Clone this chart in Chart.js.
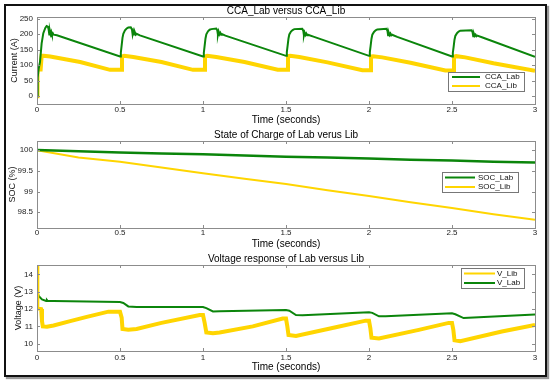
<!DOCTYPE html>
<html>
<head>
<meta charset="utf-8">
<script src="https://cdn.jsdelivr.net/npm/chart.js"></script>
<title>CCA / SOC / Voltage</title>
<style>
  body { margin: 0; background: #fff; }
  #frame { position: absolute; left: 4px; top: 4px; width: 539px; height: 369px;
           border: 2px solid #111; box-shadow: 2px 2px 1px #999; }
  .panel { position: absolute; left: 0; width: 550px; }
</style>
</head>
<body>
<div id="frame"></div>
<div class="panel" style="top:0px;height:125px"><canvas id="ccaChart"></canvas></div>
<div class="panel" style="top:125px;height:125px"><canvas id="socChart"></canvas></div>
<div class="panel" style="top:250px;height:122px"><canvas id="voltChart"></canvas></div>

<script>
// ---- data ----
const timeTicks = [0, 0.5, 1, 1.5, 2, 2.5, 3];
const ccaTicks = [0, 50, 100, 150, 200, 250];
const socTicks = [98.5, 99, 99.5, 100];
const voltTicks = [10, 11, 12, 13, 14];

// CCA_Lab (A)
const ccaLabTime = [
  0, 0.004, 0.01, 0.018, 0.028, 0.038, 0.05, 0.058, 0.066, 0.07, 0.074, 0.078, 0.082, 0.086, 0.09, 0.095, 0.1, 0.12,
  0.5, 0.505, 0.51, 0.515, 0.52, 0.53, 0.54, 0.55, 0.565, 0.572, 0.576, 0.58, 0.585, 0.59, 0.595, 0.6, 0.62,
  1.0, 1.005, 1.01, 1.015, 1.02, 1.03, 1.04, 1.05, 1.08, 1.086, 1.09, 1.094, 1.099, 1.104, 1.109, 1.114, 1.135,
  1.5, 1.505, 1.51, 1.515, 1.52, 1.53, 1.54, 1.55, 1.598, 1.604, 1.608, 1.612, 1.617, 1.622, 1.627, 1.632, 1.665,
  2.0, 2.005, 2.01, 2.015, 2.02, 2.03, 2.04, 2.05, 2.105, 2.111, 2.115, 2.119, 2.124, 2.129, 2.134, 2.139, 2.17,
  2.5, 2.505, 2.51, 2.515, 2.52, 2.53, 2.54, 2.55, 2.618, 2.624, 2.628, 2.632, 2.637, 2.642, 2.647, 2.652, 2.68,
  3.0
];
const ccaLab = [
  0, 60, 88, 110, 170, 203, 220, 226, 224, 215, 199, 210, 200, 207, 199, 203, 198, 196,
  128, 140, 164, 188, 201, 212, 218, 221, 222, 215, 199, 209, 199, 205, 198, 201, 196,
  128, 140, 163, 186, 199, 209, 214, 216, 218, 212, 198, 208, 199, 204, 198, 200, 195,
  130, 142, 164, 186, 199, 208, 213, 216, 217, 211, 196, 205, 197, 202, 196, 198, 192,
  130, 142, 163, 185, 198, 207, 212, 215, 217, 211, 196, 205, 197, 202, 196, 198, 191,
  128, 140, 160, 182, 194, 203, 208, 211, 212, 206, 193, 201, 194, 198, 193, 195, 190,
  127
];

// CCA_Lib (A)
const ccaLibTime = [
  0, 0.003, 0.022, 0.028, 0.04, 0.08, 0.26, 0.44,
  0.508, 0.512, 0.525, 0.58, 0.75, 0.94,
  1.008, 1.012, 1.025, 1.08, 1.25, 1.45,
  1.508, 1.512, 1.525, 1.58, 1.75, 1.96,
  2.008, 2.012, 2.025, 2.08, 2.25, 2.46,
  2.508, 2.512, 2.525, 2.58, 2.75, 3.0
];
const ccaLib = [
  0, 86, 86, 130, 130, 128, 110, 85,
  85, 128, 130, 126, 110, 85,
  85, 128, 130, 126, 110, 85,
  85, 129, 130, 126, 109, 84,
  84, 128, 129, 125, 108, 83,
  83, 127, 129, 125, 106, 82
];

// SOC (%)
const socTime = [0, 0.25, 0.5, 0.75, 1, 1.25, 1.5, 1.75, 2, 2.25, 2.5, 2.75, 3];
const socLab = [100, 99.97, 99.94, 99.92, 99.90, 99.87, 99.84, 99.82, 99.80, 99.77, 99.75, 99.72, 99.70];
const socLib = [100, 99.82, 99.72, 99.58, 99.44, 99.31, 99.18, 99.03, 98.89, 98.74, 98.60, 98.45, 98.32];

// Voltage (V)
const vLibTime = [
  0, 0.002, 0.025, 0.03, 0.035, 0.06, 0.1, 0.2, 0.3, 0.43, 0.5,
  0.51, 0.515, 0.55, 0.6, 0.75, 0.98, 1.0,
  1.01, 1.02, 1.06, 1.1, 1.3, 1.48, 1.5,
  1.508, 1.515, 1.56, 1.8, 1.98, 2.0,
  2.008, 2.015, 2.06, 2.3, 2.48, 2.5,
  2.508, 2.515, 2.55, 2.8, 3.0
];
const vLib = [
  14.5, 12.05, 12.0, 11.3, 11.0, 10.98, 11.05, 11.3, 11.55, 11.85, 11.85,
  11.5, 10.85, 10.8, 10.85, 11.2, 11.65, 11.65,
  11.2, 10.65, 10.6, 10.65, 11.0, 11.45, 11.45,
  11.0, 10.5, 10.45, 10.95, 11.33, 11.33,
  10.9, 10.35, 10.3, 10.8, 11.2, 11.2,
  10.8, 10.2, 10.15, 10.7, 11.08
];
const vLabTime = [
  0, 0.01, 0.03, 0.055, 0.06, 0.065, 0.1, 0.5,
  0.52, 0.55, 0.6, 1.0,
  1.02, 1.06, 1.1, 1.5,
  1.52, 1.56, 1.6, 2.0,
  2.02, 2.06, 2.1, 2.5,
  2.52, 2.57, 2.6, 3.0
];
const vLab = [
  13.1, 12.75, 12.55, 12.47, 12.52, 12.46, 12.46, 12.40,
  12.35, 12.15, 12.12, 12.12,
  12.05, 11.86, 11.87, 11.94,
  11.9, 11.65, 11.64, 11.82,
  11.78, 11.58, 11.58, 11.76,
  11.7, 11.48, 11.5, 11.68
];

const GREEN = '#0b850b';
const YELLOW = '#ffd500';
const FONT = 'Liberation Sans, Arial, sans-serif';
Chart.defaults.font.family = FONT;
Chart.defaults.color = '#222';

const pts = (xs, ys) => xs.map((x, i) => ({x: x, y: ys[i]}));

// matlab style box with inward ticks on all four sides, plus a boxed legend
const boxPlugin = {
  id: 'matlabBox',
  afterDraw(chart, args, opts) {
    const ctx = chart.ctx;
    const a = chart.chartArea;
    const xs = chart.scales.x, ys = chart.scales.y;
    ctx.save();
    ctx.strokeStyle = '#8c8c8c';
    ctx.lineWidth = 1;
    ctx.strokeRect(Math.round(a.left) + 0.5, Math.round(a.top) + 0.5,
                   Math.round(a.right - a.left), Math.round(a.bottom - a.top));
    ctx.beginPath();
    xs.ticks.forEach(t => {
      const p = Math.round(xs.getPixelForValue(t.value)) + 0.5;
      ctx.moveTo(p, a.bottom); ctx.lineTo(p, a.bottom - 3);
      ctx.moveTo(p, a.top); ctx.lineTo(p, a.top + 3);
    });
    ys.ticks.forEach(t => {
      const p = Math.round(ys.getPixelForValue(t.value)) + 0.5;
      ctx.moveTo(a.left, p); ctx.lineTo(a.left + 3, p);
      ctx.moveTo(a.right, p); ctx.lineTo(a.right - 3, p);
    });
    ctx.stroke();

    // legend
    const L = opts.legend;
    ctx.fillStyle = '#fff';
    ctx.fillRect(L.x, L.y, L.w, L.h);
    ctx.strokeStyle = '#777';
    ctx.strokeRect(L.x + 0.5, L.y + 0.5, L.w, L.h);
    ctx.font = '8px ' + FONT;
    ctx.textBaseline = 'middle';
    ctx.textAlign = 'left';
    chart.data.datasets.forEach((ds, i) => {
      const yy = L.y + L.rowTop + i * L.rowGap;
      ctx.strokeStyle = ds.borderColor;
      ctx.lineWidth = 2;
      ctx.beginPath();
      ctx.moveTo(L.lineStart, yy); ctx.lineTo(L.lineEnd, yy);
      ctx.stroke();
      ctx.fillStyle = '#111';
      ctx.fillText(ds.label, L.textX, yy);
    });
    ctx.restore();
  }
};

function makePanel(id, cfg) {
  return new Chart(document.getElementById(id), {
    type: 'line',
    data: { datasets: cfg.datasets },
    options: {
      responsive: true,
      maintainAspectRatio: false,
      animation: false,
      parsing: true,
      layout: { padding: { left: 0, right: 15, top: 0, bottom: 0 } },
      elements: { point: { radius: 0 }, line: { tension: 0 } },
      plugins: {
        legend: { display: false },
        tooltip: { enabled: false },
        title: {
          display: true, text: cfg.title, fullSize: false, color: '#000',
          font: { size: 10, weight: 'normal', family: FONT },
          padding: { top: cfg.titlePad, bottom: 0 }
        },
        matlabBox: { legend: cfg.legend }
      },
      scales: {
        x: {
          type: 'linear', min: 0, max: 3,
          grid: { display: false, drawTicks: false },
          border: { display: false },
          afterBuildTicks: s => { s.ticks = timeTicks.map(v => ({value: v})); },
          afterFit: s => { s.height = cfg.xHeight; },
          ticks: { padding: cfg.xTickPad, font: { size: 8 }, maxRotation: 0, callback: v => String(v) },
          title: { display: true, text: 'Time (seconds)', color: '#000',
                   font: { size: 10, lineHeight: 1 }, padding: { top: 0, bottom: cfg.xTitlePad } }
        },
        y: {
          type: 'linear', min: cfg.yMin, max: cfg.yMax,
          grid: { display: false, drawTicks: false },
          border: { display: false },
          afterBuildTicks: s => { s.ticks = cfg.yTicks.map(v => ({value: v})); },
          afterFit: s => { s.width = 37; },
          ticks: { padding: 4, font: { size: 8 }, callback: v => String(v) },
          title: { display: true, text: cfg.yTitle, color: '#111',
                   font: { size: 9, lineHeight: 1 }, padding: { top: cfg.yTitlePad, bottom: 0 } }
        }
      }
    },
    plugins: [boxPlugin]
  });
}

makePanel('ccaChart', {
  title: 'CCA_Lab versus CCA_Lib', titlePad: 5,
  yTitle: 'Current (A)', yTitlePad: 10, yMin: -25, yMax: 255, yTicks: ccaTicks,
  xHeight: 21, xTickPad: 1, xTitlePad: 0,
  legend: { x: 448, y: 72, w: 76, h: 19, rowTop: 5, rowGap: 9, lineStart: 452, lineEnd: 480, textX: 485 },
  datasets: [
    { label: 'CCA_Lab', data: pts(ccaLabTime, ccaLab), borderColor: GREEN, borderWidth: 2 },
    { label: 'CCA_Lib', data: pts(ccaLibTime, ccaLib), borderColor: YELLOW, borderWidth: 4 }
  ]
});

makePanel('socChart', {
  title: 'State of Charge of Lab verus Lib', titlePad: 4,
  yTitle: 'SOC (%)', yTitlePad: 8, yMin: 98.12, yMax: 100.22, yTicks: socTicks,
  xHeight: 22, xTickPad: 0, xTitlePad: 1,
  legend: { x: 442, y: 47, w: 76, h: 20, rowTop: 5.5, rowGap: 9.5, lineStart: 445, lineEnd: 475, textX: 478 },
  datasets: [
    { label: 'SOC_Lab', data: pts(socTime, socLab), borderColor: GREEN, borderWidth: 2.5 },
    { label: 'SOC_Lib', data: pts(socTime, socLib), borderColor: YELLOW, borderWidth: 2 }
  ]
});

makePanel('voltChart', {
  title: 'Voltage response of Lab versus Lib', titlePad: 3,
  yTitle: 'Voltage (V)', yTitlePad: 14, yMin: 9.58, yMax: 14.54, yTicks: voltTicks,
  xHeight: 21, xTickPad: 2, xTitlePad: 0,
  legend: { x: 461, y: 18, w: 63, h: 20, rowTop: 5.5, rowGap: 9.5, lineStart: 464, lineEnd: 495, textX: 497 },
  datasets: [
    { label: 'V_Lib', data: pts(vLibTime, vLib), borderColor: YELLOW, borderWidth: 4 },
    { label: 'V_Lab', data: pts(vLabTime, vLab), borderColor: GREEN, borderWidth: 2 }
  ]
});
</script>
</body>
</html>
